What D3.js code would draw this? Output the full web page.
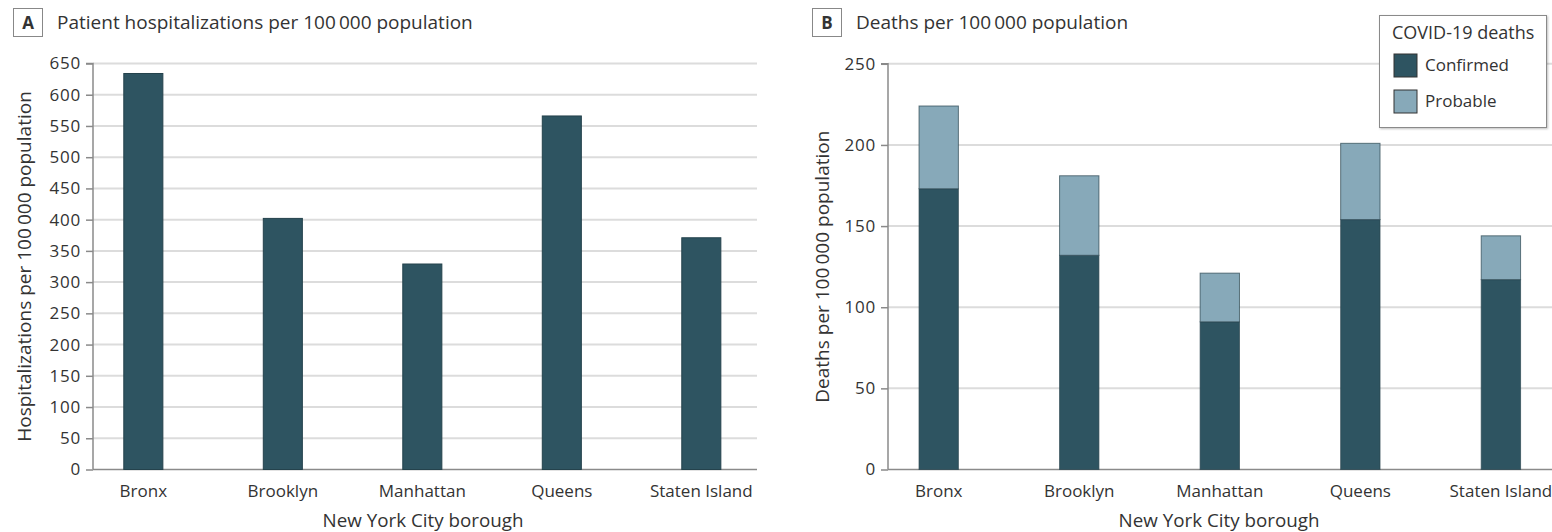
<!DOCTYPE html>
<html>
<head>
<meta charset="utf-8">
<script src="https://cdn.jsdelivr.net/npm/d3@7"></script>
<style>
  html, body { margin: 0; padding: 0; background: #fff; }
  svg { display: block; }
  text { font-family: "Open Sans", "Noto Sans", sans-serif; fill: #333; }
</style>
</head>
<body>
<svg id="chart" width="1552" height="532"></svg>
<script>
// Boroughs shown on both panels
const boroughs = ["Bronx", "Brooklyn", "Manhattan", "Queens", "Staten Island"];

// Panel A: patient hospitalizations per 100 000 population
const hospitalizations = [634, 402, 329, 566, 371];
const hospTicks = [0, 50, 100, 150, 200, 250, 300, 350, 400, 450, 500, 550, 600, 650];

// Panel B: deaths per 100 000 population, split by confirmed / probable
const confirmedDeaths = [173, 132, 91, 154, 117];
const probableDeaths = [51, 49, 30, 47, 27];
const deathTicks = [0, 50, 100, 150, 200, 250];

const seriesNames = ["Confirmed", "Probable"];
const seriesColors = ["#2e5461", "#87a9b9"];

const FONT = '"Open Sans", "Noto Sans", sans-serif';
const svg = d3.select("#chart");
const thin = "\u2009";

function panelLabel(x, letter, title) {
  const g = svg.append("g");
  g.append("rect").attr("x", x + 0.5).attr("y", 8.5).attr("width", 29).attr("height", 28)
    .attr("fill", "#fff").attr("stroke", "#888").attr("stroke-width", 1);
  g.append("text").attr("x", x + 15).attr("y", 29).attr("text-anchor", "middle")
    .attr("font-size", 17).attr("font-weight", "bold").attr("fill", "#222").text(letter);
  g.append("text").attr("x", x + 44).attr("y", 29)
    .attr("font-size", 19).text(title);
}

function makeBand(r0, r1) {
  return d3.scaleBand().domain(boroughs).range([r0, r1])
    .paddingInner(0.72).paddingOuter(0.24).align(0.46);
}

function drawAxes(x, y, ticks, r0, r1, ylabel, labelX, xTitleX) {
  const g = svg.append("g");
  // horizontal grid lines
  g.selectAll("line.grid").data(ticks.filter(t => t > 0)).join("line")
    .attr("x1", r0).attr("x2", r1)
    .attr("y1", d => y(d)).attr("y2", d => y(d))
    .attr("stroke", "#dcdcdc").attr("stroke-width", 2);

  const ya = d3.axisLeft(y).tickValues(ticks).tickSize(7).tickPadding(5);
  const yg = g.append("g").attr("transform", `translate(${r0},0)`).call(ya);
  yg.select(".domain").attr("stroke", "#8a8a8a").attr("stroke-width", 1.5)
    .attr("d", `M-7,${y.range()[1]}H0V${y.range()[0]}`);
  yg.selectAll(".tick line").attr("stroke", "#8a8a8a").attr("stroke-width", 1.5);
  yg.selectAll(".tick text").attr("font-size", 17).attr("fill", "#333")
    .attr("letter-spacing", 0.8).style("font-family", FONT);

  const xa = d3.axisBottom(x).tickSize(0).tickPadding(0);
  const xg = g.append("g").attr("transform", `translate(0,${y(0)})`).call(xa);
  xg.select(".domain").attr("stroke", "#8a8a8a").attr("stroke-width", 1.5)
    .attr("d", `M${r0},0H${r1}`);
  xg.selectAll(".tick text").attr("font-size", 17).attr("fill", "#333")
    .attr("dy", null).attr("y", 27.5).style("font-family", FONT);

  svg.append("text")
    .attr("transform", `translate(${labelX},${(y.range()[0] + y.range()[1]) / 2}) rotate(-90)`)
    .attr("text-anchor", "middle").attr("font-size", 19).text(ylabel);
  svg.append("text").attr("x", xTitleX).attr("y", 527)
    .attr("text-anchor", "middle").attr("font-size", 18.8).text("New York City borough");
}

// ---- Panel A ----
panelLabel(13, "A", `Patient hospitalizations per 100${thin}000 population`);
const xA = makeBand(93, 757);
const yA = d3.scaleLinear().domain([0, 650]).range([469.5, 63.5]);
drawAxes(xA, yA, hospTicks, 93, 757, `Hospitalizations per 100${thin}000 population`, 31, 423);

svg.append("g").selectAll("rect").data(boroughs).join("rect")
  .attr("x", d => xA(d)).attr("width", xA.bandwidth())
  .attr("y", (d, i) => yA(hospitalizations[i]))
  .attr("height", (d, i) => yA(0) - yA(hospitalizations[i]))
  .attr("fill", seriesColors[0]).attr("stroke", "#24424c").attr("stroke-width", 1);

// ---- Panel B ----
panelLabel(812, "B", `Deaths per 100${thin}000 population`);
const xB = makeBand(888, 1557);
const yB = d3.scaleLinear().domain([0, 250]).range([469.5, 63.8]);
drawAxes(xB, yB, deathTicks, 888, 1557, `Deaths per 100${thin}000 population`, 829, 1219);

const stackData = boroughs.map((b, i) => ({ borough: b, Confirmed: confirmedDeaths[i], Probable: probableDeaths[i] }));
const stacked = d3.stack().keys(seriesNames)(stackData);
svg.append("g").selectAll("g").data(stacked).join("g")
  .attr("fill", (d, i) => seriesColors[i])
  .selectAll("rect").data(d => d).join("rect")
  .attr("x", d => xB(d.data.borough)).attr("width", xB.bandwidth())
  .attr("y", d => yB(d[1])).attr("height", d => yB(d[0]) - yB(d[1]))
  .attr("stroke", "#2b4650").attr("stroke-opacity", 0.7).attr("stroke-width", 1);

// Legend
const lg = svg.append("g").attr("transform", "translate(1379,15)");
lg.append("rect").attr("x", 0.5).attr("y", 0.5).attr("width", 167).attr("height", 112)
  .attr("fill", "#fff").attr("stroke", "#8a8a8a").attr("stroke-width", 1)
  .style("filter", "drop-shadow(1px 1px 1px rgba(0,0,0,0.25))");
lg.append("text").attr("x", 13).attr("y", 24).attr("font-size", 18).text("COVID-19 deaths");
seriesNames.forEach((name, i) => {
  const yy = 39 + i * 36;
  lg.append("rect").attr("x", 15).attr("y", yy).attr("width", 23).attr("height", 23)
    .attr("fill", seriesColors[i]).attr("stroke", "#333").attr("stroke-width", 1);
  lg.append("text").attr("x", 46).attr("y", yy + 17).attr("font-size", 17).text(name);
});
</script>
</body>
</html>
